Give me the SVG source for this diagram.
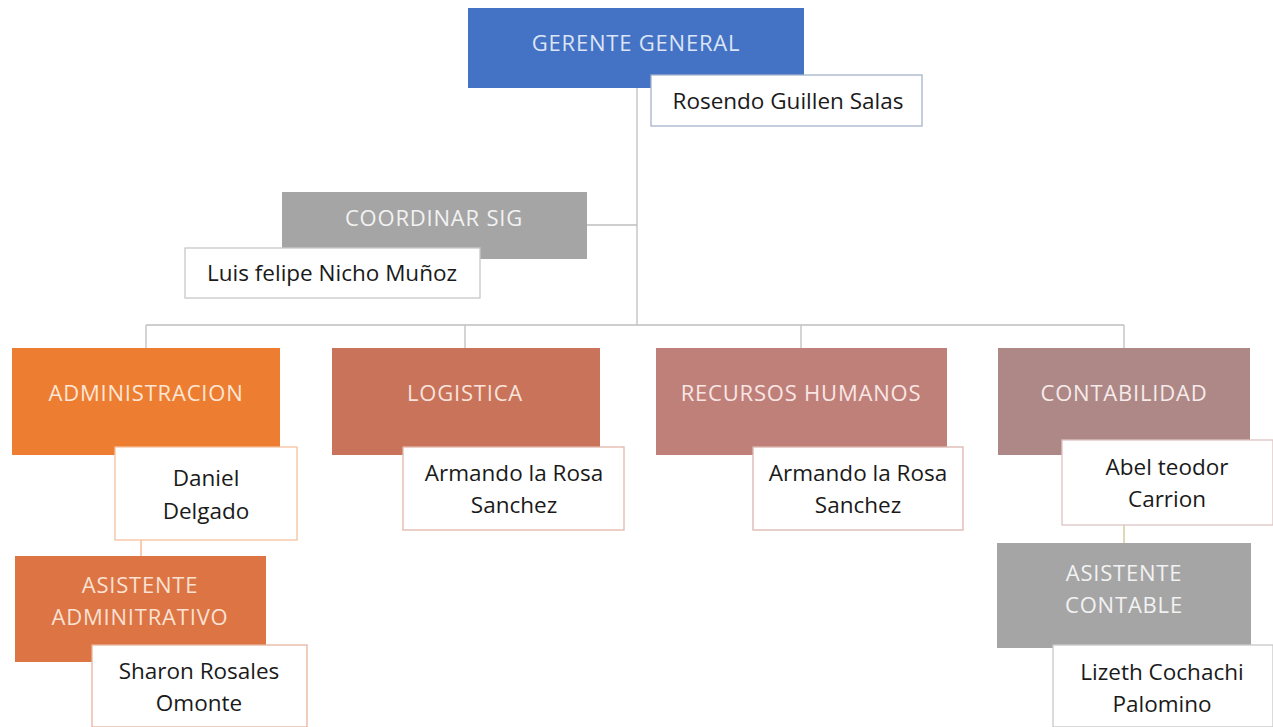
<svg xmlns="http://www.w3.org/2000/svg" width="1273" height="727" viewBox="0 0 1273 727">
<style>
.h{font-family:"Open Sans","Liberation Sans",sans-serif;font-size:22px;letter-spacing:0.8px;text-anchor:middle;}
.n{font-family:"Open Sans","Liberation Sans",sans-serif;font-size:22.5px;fill:#1a1a1a;text-anchor:middle;}
.c{fill:none;stroke:#bfbfbf;stroke-width:1.3;}
.w{fill:#ffffff;stroke-width:1.3;}
</style>
<rect width="1273" height="727" fill="#ffffff"/>
<g id="connectors">
<path class="c" d="M637 88V325M587 225H637M146 325H1124M146 325V348M465 325V348M801 325V348M1124 325V348"/>
<path d="M141 540V556" stroke="#f4b183" stroke-width="1.3" fill="none"/>
<path d="M1124 525V543" stroke="#c9c58f" stroke-width="1.3" fill="none"/>
</g>
<g id="gerente">
<rect x="468" y="8" width="336" height="80" fill="#4472c4"/>
<text class="h" x="636" y="51" fill="#dbe5f6">GERENTE GENERAL</text>
<rect class="w" x="651" y="75" width="271" height="51" stroke="#a6b3c9"/>
<text class="n" x="788" y="109">Rosendo Guillen Salas</text>
</g>
<g id="coordinar">
<rect x="282" y="192" width="305" height="67" fill="#a5a5a5"/>
<text class="h" x="434" y="226" fill="#f2f2f2">COORDINAR SIG</text>
<rect class="w" x="185" y="248" width="295" height="50" stroke="#c8c8c8"/>
<text class="n" x="332" y="281">Luis felipe Nicho Muñoz</text>
</g>
<g id="administracion">
<rect x="12" y="348" width="268" height="107" fill="#ed7d31"/>
<text class="h" x="146" y="401" fill="#fde6d6">ADMINISTRACION</text>
<rect class="w" x="115" y="447" width="182" height="93" stroke="#f4c09d"/>
<text class="n" x="206" y="486">Daniel</text>
<text class="n" x="206" y="519">Delgado</text>
</g>
<g id="asistente-admin">
<rect x="15" y="556" width="251" height="106" fill="#dc7444"/>
<text class="h" x="140" y="593" fill="#fbe1d3">ASISTENTE</text>
<text class="h" x="140" y="625" fill="#fbe1d3">ADMINITRATIVO</text>
<rect class="w" x="92" y="645" width="215" height="82" stroke="#e7b49e"/>
<text class="n" x="199" y="679">Sharon Rosales</text>
<text class="n" x="199" y="711">Omonte</text>
</g>
<g id="logistica">
<rect x="332" y="348" width="268" height="107" fill="#c8735a"/>
<text class="h" x="465" y="401" fill="#f9e3dc">LOGISTICA</text>
<rect class="w" x="403" y="447" width="221" height="83" stroke="#e2b7a9"/>
<text class="n" x="514" y="481">Armando la Rosa</text>
<text class="n" x="514" y="513">Sanchez</text>
</g>
<g id="rrhh">
<rect x="656" y="348" width="291" height="107" fill="#c0807a"/>
<text class="h" x="801" y="401" fill="#f8e6e4">RECURSOS HUMANOS</text>
<rect class="w" x="753" y="447" width="210" height="83" stroke="#dcb5b0"/>
<text class="n" x="858" y="481">Armando la Rosa</text>
<text class="n" x="858" y="513">Sanchez</text>
</g>
<g id="contabilidad">
<rect x="998" y="348" width="252" height="107" fill="#ad8886"/>
<text class="h" x="1124" y="401" fill="#f6ebea">CONTABILIDAD</text>
<rect class="w" x="1062" y="440" width="211" height="85" stroke="#dcc4c3"/>
<text class="n" x="1167" y="475">Abel teodor</text>
<text class="n" x="1167" y="507">Carrion</text>
</g>
<g id="asistente-contable">
<rect x="997" y="543" width="254" height="105" fill="#a5a5a5"/>
<text class="h" x="1124" y="581" fill="#f2f2f2">ASISTENTE</text>
<text class="h" x="1124" y="613" fill="#f2f2f2">CONTABLE</text>
<rect class="w" x="1053" y="645" width="220" height="82" stroke="#c8c8c8"/>
<text class="n" x="1162" y="680">Lizeth Cochachi</text>
<text class="n" x="1162" y="712">Palomino</text>
</g>
</svg>
